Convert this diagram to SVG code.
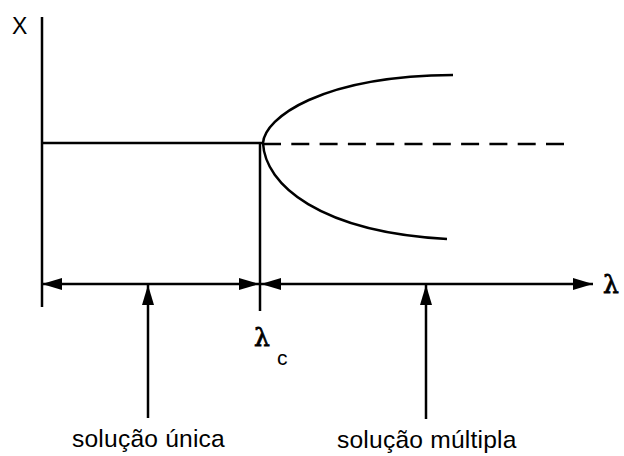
<svg xmlns="http://www.w3.org/2000/svg" width="624" height="456" viewBox="0 0 624 456">
<style>
.ln{stroke:#000;stroke-width:2.5;fill:none;stroke-linecap:butt}
.dash{stroke:#000;stroke-width:2.5;fill:none;stroke-dasharray:18 10.3}
.sans{font-family:"Liberation Sans",Arial,sans-serif;fill:#000}
.serif{font-family:"DejaVu Serif","Liberation Serif",serif;fill:#000;stroke:#000;stroke-width:0.8}
</style>
<defs>
<marker id="ah" markerUnits="userSpaceOnUse" markerWidth="20" markerHeight="12" refX="20" refY="6" orient="auto-start-reverse" viewBox="0 0 20 12">
<path d="M0,0 L20,6 L0,12 z" fill="#000"/>
</marker>
</defs>
<rect width="624" height="456" fill="#fff"/>
<g id="axes">
<line class="ln" x1="42" y1="17" x2="42" y2="307"/>
<line class="ln" x1="260" y1="143" x2="260" y2="311"/>
</g>
<g id="branches">
<line class="ln" x1="42" y1="143" x2="262" y2="143"/>
<line class="dash" x1="263" y1="144" x2="566" y2="144"/>
<path class="ln" d="M263,143 C265,118 320,76 453,75"/>
<path class="ln" d="M263,143 C265,185 320,232 447,239"/>
</g>
<g id="connectors">
<line class="ln" x1="42" y1="284" x2="259" y2="284" marker-start="url(#ah)" marker-end="url(#ah)"/>
<line class="ln" x1="261" y1="284" x2="593" y2="284" marker-start="url(#ah)" marker-end="url(#ah)"/>
<line class="ln" x1="148" y1="418" x2="148" y2="285" marker-end="url(#ah)"/>
<line class="ln" x1="426" y1="419" x2="426" y2="285" marker-end="url(#ah)"/>
</g>
<g id="labels">
<text class="sans" x="12" y="34" font-size="23">X</text>
<text class="serif" x="603" y="293" font-size="25">λ</text>
<text class="serif" x="254" y="346" font-size="25">λ</text>
<text class="sans" x="277" y="365" font-size="21">c</text>
<text class="sans" x="72" y="447" font-size="24.6" letter-spacing="0.2">solução única</text>
<text class="sans" x="337" y="448" font-size="24.6" letter-spacing="0.2">solução múltipla</text>
</g>
</svg>
